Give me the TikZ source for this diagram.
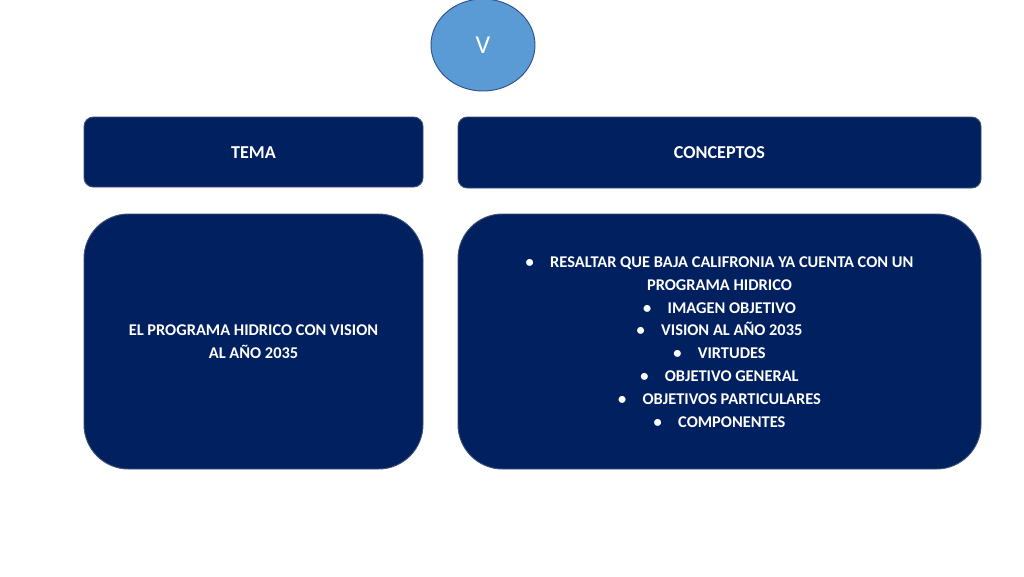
\documentclass[tikz,border=0pt]{standalone}
\usepackage{fontspec}
\setmainfont{Carlito}
\definecolor{navy}{RGB}{0,32,96}
\definecolor{edge}{RGB}{60,80,120}
\definecolor{lblue}{RGB}{91,155,213}
\definecolor{cedge}{RGB}{50,80,140}
\begin{document}
\begin{tikzpicture}[x=0.03cm,y=-0.03cm,
  hbox/.style={draw=edge,fill=navy,line width=0.8pt,rounded corners=8},
  bbox/.style={draw=edge,fill=navy,line width=0.8pt,rounded corners=38},
  htext/.style={text=white,font=\bfseries\fontsize{15.5}{19}\selectfont},
  btext/.style={text=white,font=\bfseries\fontsize{14}{19.5}\selectfont,align=center}]
\useasboundingbox (0,0) rectangle (1024,576);
\fill[lblue,draw=cedge,line width=0.8pt] (483,45) ellipse [x radius=52,y radius=46];
\node[text=white,font=\fontsize{22}{24}\selectfont] (vt) at (483,45) {V};
\draw[hbox] (84,117) rectangle (423,187);
\node[htext] (tema) at (253.5,153) {TEMA};
\draw[hbox] (458,117) rectangle (981,188);
\node[htext] (conc) at (719.5,153) {CONCEPTOS};
\draw[bbox] (84,214) rectangle (423,469);
\node[btext] (lt) at (253.5,342) {EL PROGRAMA HIDRICO CON VISION\\AL AÑO 2035};
\draw[bbox] (458,214) rectangle (981,469);
\node[btext] (rt) at (719.5,342) {•\hspace{1em}RESALTAR QUE BAJA CALIFRONIA YA CUENTA CON UN\\PROGRAMA HIDRICO\\•\hspace{1em}IMAGEN OBJETIVO\\•\hspace{1em}VISION AL AÑO 2035\\•\hspace{1em}VIRTUDES\\•\hspace{1em}OBJETIVO GENERAL\\•\hspace{1em}OBJETIVOS PARTICULARES\\•\hspace{1em}COMPONENTES};
\end{tikzpicture}
\end{document}
